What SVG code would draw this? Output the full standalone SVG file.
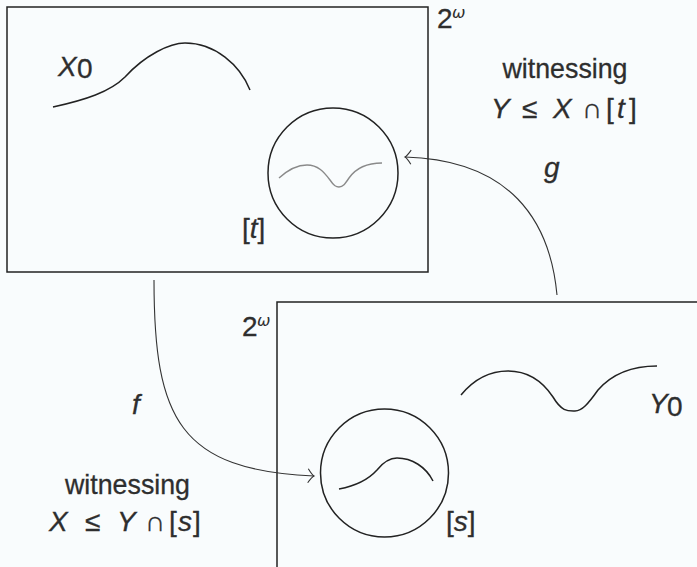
<svg xmlns="http://www.w3.org/2000/svg" width="697" height="567" viewBox="0 0 697 567">
<defs>
<style>
.frame{fill:none;stroke:#222;stroke-width:1.5}
.circ{fill:none;stroke:#222;stroke-width:1.5}
.curve{fill:none;stroke:#222;stroke-width:1.5}
.gcurve{fill:none;stroke:#8a8a8a;stroke-width:1.4}
.conn{fill:none;stroke:#333;stroke-width:1.1}
.t{font-family:"Liberation Sans","DejaVu Sans",sans-serif;fill:#2e2e2e;font-size:28px;stroke:#2e2e2e;stroke-width:0.3}
.i{font-style:italic}
.w{font-family:"DejaVu Sans",sans-serif;font-style:italic;fill:#2e2e2e;font-size:16px}
</style>
<marker id="hook" viewBox="-8 -8 10 16" markerWidth="10" markerHeight="16" refX="0" refY="0" orient="auto" markerUnits="userSpaceOnUse">
<path d="M-6,-7 Q-2,-1 0,0 Q-2,1 -6,7" fill="none" stroke="#333" stroke-width="1.1"/>
</marker>
</defs>
<rect x="0" y="0" width="697" height="567" fill="#f9fcfd"/>

<g id="space-top">
<rect class="frame" x="7" y="7" width="421" height="265"/>
<text class="t" x="437" y="28" font-size="26">2</text>
<text class="w" x="452" y="18">ω</text>
</g>

<g id="X0">
<path class="curve" d="M53,107 C85,100 110,92 125,77 C145,55 170,43 185,43 C215,43 240,65 250,90"/>
<text class="t i" x="58" y="76" font-size="29">X</text>
<text class="t" x="77" y="78" font-size="17">0</text>
</g>

<g id="t-circle">
<circle class="circ" cx="333" cy="173" r="65"/>
<path class="gcurve" d="M279,178 C290,168 299,165 307,165 C318,165 324,172 330,180 C334,186 336,187 339,187 C343,187 345,184 349,178 C356,168 368,163 382,163"/>
<text class="t" x="242" y="238" font-size="29">[<tspan class="i">t</tspan>]</text>
</g>

<g id="space-bottom">
<rect class="frame" x="277" y="302" width="450" height="300"/>
<text class="t" x="242" y="336" font-size="26">2</text>
<text class="w" x="257" y="326">ω</text>
</g>

<g id="Y0">
<path class="curve" d="M461,395 C475,378 492,371 508,371 C528,371 543,382 553,397 C562,412 568,411 575,411 C582,411 588,404 598,390 C612,374 630,366 657,366"/>
<text class="t i" x="649" y="413" font-size="29">Y</text>
<text class="t" x="667" y="416" font-size="17">0</text>
</g>

<g id="s-circle">
<circle class="circ" cx="384.5" cy="473" r="64"/>
<path class="curve" d="M339,489 C355,486 368,480 377,470 C385,460 392,458 397,458 C412,458 426,467 433,481"/>
<text class="t" x="446" y="531" font-size="29">[<tspan class="i">s</tspan>]</text>
</g>

<g id="label-g">
<text class="t" x="565" y="78" text-anchor="middle" textLength="125" lengthAdjust="spacingAndGlyphs">witnessing</text>
<text class="t" y="118"><tspan class="i" x="491">Y</tspan><tspan x="522">≤</tspan><tspan class="i" x="553">X</tspan><tspan x="582">∩</tspan><tspan x="606">[</tspan><tspan class="i" x="617">t</tspan><tspan x="629">]</tspan></text>
<text class="t i" x="544" y="177" font-size="29">g</text>
</g>

<g id="label-f">
<text class="t" x="127.5" y="494" text-anchor="middle" textLength="125" lengthAdjust="spacingAndGlyphs">witnessing</text>
<text class="t" y="531"><tspan class="i" x="49">X</tspan><tspan x="85">≤</tspan><tspan class="i" x="117">Y</tspan><tspan x="145">∩</tspan><tspan x="169">[</tspan><tspan class="i" x="178">s</tspan><tspan x="193">]</tspan></text>
<text class="t i" x="132" y="414" font-size="29">f</text>
</g>

<g id="connectors">
<path class="conn" d="M154,280 C154,420 180,470 314,476" marker-end="url(#hook)"/>
<path class="conn" d="M557,295 C550,220 510,160 405,157" marker-end="url(#hook)"/>
</g>
</svg>
